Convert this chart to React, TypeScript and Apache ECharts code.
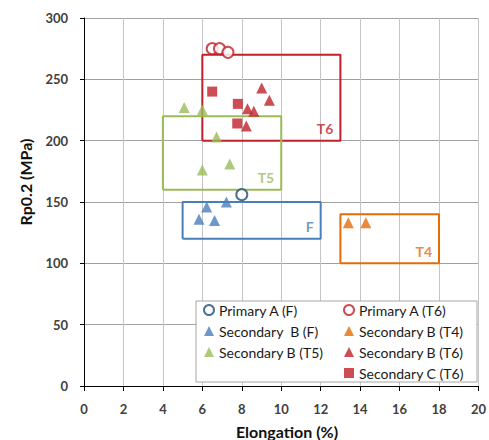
import React, { useEffect, useRef } from "react";
import * as echarts from "echarts";

// ---- data ----
const xTicks = { min: 0, max: 20, interval: 2 };
const yTicks = { min: 0, max: 300, interval: 50 };

const primaryAF = [[8.0, 156]];
const primaryAT6 = [[6.5, 275], [6.87, 275], [7.3, 272]];
const secondaryBF = [[5.83, 136], [6.22, 146], [6.62, 135], [7.22, 150]];
const secondaryBT4 = [[13.4, 133], [14.29, 133]];
const secondaryBT5 = [[5.08, 227], [6.0, 225], [6.72, 203], [6.0, 176], [7.39, 181]];
const secondaryBT6 = [[9.01, 243], [9.4, 233], [8.29, 226], [8.61, 224], [8.23, 212]];
const secondaryCT6 = [[6.5, 240], [7.8, 230], [7.77, 214]];

const boxNames = ["T6", "T5", "F", "T4"];
const boxX0 = [6, 4, 5, 13];
const boxX1 = [13, 10, 12, 18];
const boxY0 = [200, 160, 120, 100];
const boxY1 = [270, 220, 150, 140];

const legendCol1 = ["Primary A (F)", "Secondary  B (F)", "Secondary B (T5)"];
const legendCol2 = ["Primary A (T6)", "Secondary B (T4)", "Secondary B (T6)", "Secondary C (T6)"];

const C = {
  darkBlue: "#1f4e79",
  blue: "#4a7ebb",
  green: "#9bbb59",
  orange: "#e36c09",
  red: "#c0202a",
};
const boxColors = [C.red, C.green, C.blue, C.orange];

const FONT = "Lato, 'Open Sans', sans-serif";

export default function App() {
  const ref = useRef<HTMLDivElement>(null);
  useEffect(() => {
    if (!ref.current) return;
    const chart = echarts.init(ref.current, null, { renderer: "svg" });

    const boxSeries: any[] = [];
    boxNames.forEach((n, i) => {
      boxSeries.push({
        name: "box " + n,
        type: "line",
        silent: true,
        symbol: "none",
        z: 2,
        lineStyle: { color: boxColors[i], width: 2 },
        data: [
          [boxX0[i], boxY0[i]],
          [boxX1[i], boxY0[i]],
          [boxX1[i], boxY1[i]],
          [boxX0[i], boxY1[i]],
          [boxX0[i], boxY0[i]],
        ],
      });
      boxSeries.push({
        name: "label " + n,
        type: "scatter",
        silent: true,
        symbolSize: 0,
        data: [[boxX1[i], boxY0[i]]],
        label: {
          show: true,
          formatter: n,
          position: [-7, -5],
          align: "right",
          verticalAlign: "bottom",
          color: boxColors[i],
          fontWeight: "bold",
          fontSize: 14,
          fontFamily: FONT,
        },
      });
    });

    const scatter = (name: string, data: number[][], symbol: string, color: string, size: number, hollow = false) => ({
      name,
      type: "scatter",
      symbol,
      symbolSize: size,
      z: 5,
      data,
      itemStyle: hollow
        ? { color: "#ffffff", borderColor: color, borderWidth: 2 }
        : { color },
    });

    const legendBase = {
      orient: "vertical",
      top: 303,
      padding: 0,
      itemWidth: 10,
      itemHeight: 10,
      itemGap: 7,
      z: 10,
      textStyle: { fontFamily: FONT, fontSize: 14, color: "#1a1a1a", lineHeight: 14 },
    };

    chart.setOption({
      animation: false,
      grid: { left: 84, right: 6, top: 18, bottom: 54 },
      xAxis: {
        type: "value",
        min: xTicks.min,
        max: xTicks.max,
        interval: xTicks.interval,
        axisLine: { lineStyle: { color: "#000", width: 1 } },
        axisTick: { show: true, length: 5, lineStyle: { color: "#000" } },
        axisLabel: { margin: 16, fontFamily: FONT, fontWeight: "bold", fontSize: 13, color: "#404040" },
        splitLine: { show: true, lineStyle: { color: "#c4c4c4", width: 1 } },
      },
      yAxis: {
        type: "value",
        min: yTicks.min,
        max: yTicks.max,
        interval: yTicks.interval,
        axisLine: { show: true, lineStyle: { color: "#000", width: 1 } },
        axisTick: { show: true, length: 4, lineStyle: { color: "#000" } },
        axisLabel: { margin: 16, fontFamily: FONT, fontWeight: "bold", fontSize: 13, color: "#404040" },
        splitLine: { show: true, lineStyle: { color: "#a0a0a0", width: 1 } },
      },
      legend: [
        { ...legendBase, left: 203, data: legendCol1 },
        { ...legendBase, left: 343, data: legendCol2 },
      ],
      graphic: [
        {
          type: "rect",
          z: 3,
          shape: { x: 196, y: 301, width: 281, height: 81 },
          style: { fill: "#ffffff", stroke: "#a6a6a6", lineWidth: 1 },
        },
        {
          type: "text",
          x: 25,
          y: 182,
          rotation: Math.PI / 2,
          style: {
            text: "Rp0.2 (MPa)",
            font: "bold 16px " + FONT,
            fill: "#111",
            align: "center",
            verticalAlign: "middle",
          },
        },
        {
          type: "text",
          x: 287,
          y: 431,
          style: {
            text: "Elongation (%)",
            font: "bold 16px " + FONT,
            fill: "#111",
            align: "center",
            verticalAlign: "middle",
          },
        },
      ],
      series: [
        ...boxSeries,
        scatter(legendCol1[0], primaryAF, "circle", C.darkBlue, 11, true),
        scatter(legendCol2[0], primaryAT6, "circle", C.red, 11, true),
        scatter(legendCol1[1], secondaryBF, "triangle", C.blue, 11),
        scatter(legendCol2[1], secondaryBT4, "triangle", C.orange, 11),
        scatter(legendCol1[2], secondaryBT5, "triangle", C.green, 11),
        scatter(legendCol2[2], secondaryBT6, "triangle", C.red, 11),
        scatter(legendCol2[3], secondaryCT6, "rect", C.red, 10),
      ],
    });
    return () => chart.dispose();
  }, []);
  return <div ref={ref} style={{ width: 489, height: 440, position: "absolute", left: 0, top: 0 }} />;
}
